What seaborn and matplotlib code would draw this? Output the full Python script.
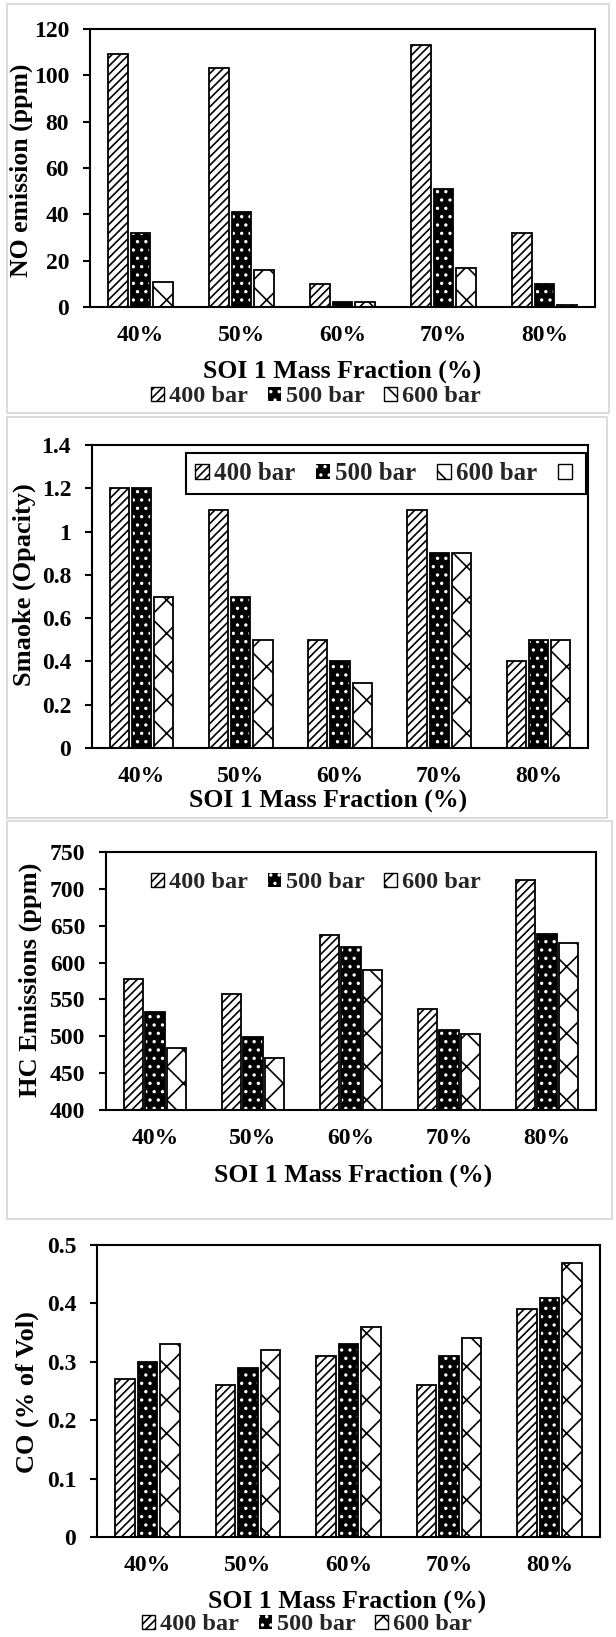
import numpy as np
import pandas as pd
import matplotlib
matplotlib.use("Agg")
import matplotlib.pyplot as plt
import seaborn as sns
from matplotlib.patches import Rectangle, Patch

# ---------------- data ----------------
categories = ["40%", "50%", "60%", "70%", "80%"]
pressures = ["400 bar", "500 bar", "600 bar"]

no_400 = [109, 103, 10, 113, 32]
no_500 = [32, 41, 2, 51, 10]
no_600 = [11, 16, 2, 17, 1]

smoke_400 = [1.2, 1.1, 0.5, 1.1, 0.4]
smoke_500 = [1.2, 0.7, 0.4, 0.9, 0.5]
smoke_600 = [0.7, 0.5, 0.3, 0.9, 0.5]

hc_400 = [578, 557, 638, 537, 712]
hc_500 = [533, 499, 621, 509, 639]
hc_600 = [484, 470, 590, 503, 627]

co_400 = [0.27, 0.26, 0.31, 0.26, 0.39]
co_500 = [0.30, 0.29, 0.33, 0.31, 0.41]
co_600 = [0.33, 0.32, 0.36, 0.34, 0.47]

no_ticks = [0, 20, 40, 60, 80, 100, 120]
no_ticklabels = ["0", "20", "40", "60", "80", "100", "120"]
smoke_ticks = [0, 0.2, 0.4, 0.6, 0.8, 1.0, 1.2, 1.4]
smoke_ticklabels = ["0", "0.2", "0.4", "0.6", "0.8", "1", "1.2", "1.4"]
hc_ticks = [400, 450, 500, 550, 600, 650, 700, 750]
hc_ticklabels = ["400", "450", "500", "550", "600", "650", "700", "750"]
co_ticks = [0, 0.1, 0.2, 0.3, 0.4, 0.5]
co_ticklabels = ["0", "0.1", "0.2", "0.3", "0.4", "0.5"]

xlabel_text = "SOI 1 Mass Fraction (%)"

# ---------------- style ----------------
sns.set_theme(style="white")
plt.rcParams["font.family"] = ["Liberation Serif", "DejaVu Serif"]
plt.rcParams["font.weight"] = "bold"
plt.rcParams["axes.labelweight"] = "bold"
plt.rcParams["hatch.linewidth"] = 1.2

W, H = 616, 1637
fig = plt.figure(figsize=(W / 100, H / 100), dpi=100)
fig.patch.set_facecolor("white")

HATCHES = ["////", "..", "x"]
HATCH_COLORS = ["black", "white", "black"]
FILLS = ["white", "black", "white"]


def fx(x):
    return x / W


def fy(y):
    return 1 - y / H


def add_axes_px(l, t, r, b):
    return fig.add_axes([l / W, 1 - b / H, (r - l) / W, (b - t) / H])


def legend_handles():
    hs = []
    for f, h in zip(FILLS, HATCHES):
        if f == "black":
            hs.append(Patch(facecolor="black", edgecolor="white", hatch=h, linewidth=0))
        else:
            hs.append(Patch(facecolor="white", edgecolor="black", hatch=h, linewidth=1.0))
    return hs


def draw_panel(ax, v400, v500, v600, ylim, ticks, ticklabels, ylabel,
               box_px, ylabel_px, xlabel_px, ylabel_size=19):
    df = pd.DataFrame({
        "frac": categories * 3,
        "pressure": [p for p in pressures for _ in categories],
        "value": list(v400) + list(v500) + list(v600),
    })
    sns.barplot(data=df, x="frac", y="value", hue="pressure",
                order=categories, hue_order=pressures,
                palette=FILLS, saturation=1, width=0.67, gap=0.13,
                errorbar=None, legend=False, ax=ax, linewidth=0)
    for cont, hatch, hc in zip(ax.containers, HATCHES, HATCH_COLORS):
        for p in cont:
            p.set_hatch(hatch)
            p.set_edgecolor(hc)
            p.set_linewidth(0)
    sns.barplot(data=df, x="frac", y="value", hue="pressure",
                order=categories, hue_order=pressures,
                palette=["black"] * 3, saturation=1, width=0.67, gap=0.13,
                errorbar=None, legend=False, ax=ax, fill=False, linewidth=1.3)

    ax.set_xlim(-0.5, 4.5)
    ax.set_ylim(*ylim)
    ax.set_yticks(ticks)
    ax.set_yticklabels(ticklabels)
    for s in ax.spines.values():
        s.set_visible(True)
        s.set_color("black")
        s.set_linewidth(1.5)
    ax.tick_params(axis="y", which="major", direction="out", length=5,
                   width=1.5, color="black", pad=10, labelsize=17, left=True)
    ax.tick_params(axis="x", length=0, pad=13, labelsize=17)
    for lab in ax.get_xticklabels() + ax.get_yticklabels():
        lab.set_fontweight("bold")
        lab.set_color("black")

    l, t, r, b = box_px
    ax.set_xlabel(xlabel_text, fontsize=18.5, fontweight="bold", color="black")
    ax.xaxis.label.set_va("center")
    ax.xaxis.set_label_coords((xlabel_px[0] - l) / (r - l), (b - xlabel_px[1]) / (b - t))
    ax.set_ylabel(ylabel, fontsize=ylabel_size, fontweight="bold", color="black")
    ax.yaxis.label.set_va("center")
    ax.yaxis.set_label_coords((ylabel_px[0] - l) / (r - l), (b - ylabel_px[1]) / (b - t))


def bottom_legend(xc, yc):
    return fig.legend(legend_handles(), pressures, loc="center",
                      bbox_to_anchor=(fx(xc), fy(yc)), bbox_transform=fig.transFigure,
                      ncol=3, frameon=False, handlelength=0.55, handleheight=0.55,
                      handletextpad=0.2, columnspacing=0.8, borderpad=0.0,
                      prop={"weight": "bold", "size": 17.5})


# ---------------- panel frames (light grey boxes) ----------------
for (x0, y0, x1, y1) in [(7, 4, 609, 413), (7, 417, 607, 818), (7, 821, 612, 1219)]:
    fig.add_artist(Rectangle((fx(x0), fy(y1)), (x1 - x0) / W, (y1 - y0) / H,
                             transform=fig.transFigure, fill=False,
                             edgecolor="#d9d9d9", linewidth=1.3))

# ---------------- panel 1: NO ----------------
b1 = (90, 29, 595, 307)
ax1 = add_axes_px(*b1)
draw_panel(ax1, no_400, no_500, no_600, (0, 120), no_ticks, no_ticklabels,
           "NO emission (ppm)", b1, (21, 170), (342, 371), ylabel_size=18.5)
bottom_legend(316, 397)

# ---------------- panel 2: Smoke ----------------
b2 = (92, 445, 588, 748)
ax2 = add_axes_px(*b2)
draw_panel(ax2, smoke_400, smoke_500, smoke_600, (0, 1.4), smoke_ticks,
           smoke_ticklabels, "Smaoke (Opacity)", b2, (24, 585), (328, 800))
h2 = legend_handles() + [Patch(facecolor="white", edgecolor="black", linewidth=1.0)]
leg2 = fig.legend(h2, pressures + [""], loc="center",
                  bbox_to_anchor=(fx(386), fy(473.5)), bbox_transform=fig.transFigure,
                  ncol=4, frameon=True, fancybox=False, edgecolor="black",
                  handlelength=0.55, handleheight=0.55, handletextpad=0.2,
                  columnspacing=0.85, borderpad=0.35, prop={"weight": "bold", "size": 18})
leg2.get_frame().set_linewidth(1.5)
leg2.get_frame().set_alpha(1)

# ---------------- panel 3: HC ----------------
b3 = (106, 852, 596, 1110)
ax3 = add_axes_px(*b3)
draw_panel(ax3, hc_400, hc_500, hc_600, (400, 750), hc_ticks, hc_ticklabels,
           "HC Emissions (ppm)", b3, (30, 980), (353, 1175))
bottom_legend(316, 883)

# ---------------- panel 4: CO ----------------
b4 = (97, 1245, 600, 1537)
ax4 = add_axes_px(*b4)
draw_panel(ax4, co_400, co_500, co_600, (0, 0.5), co_ticks, co_ticklabels,
           "CO (% of Vol)", b4, (27.5, 1392), (347, 1601))
bottom_legend(307, 1625)

fig.savefig("out.png", dpi=100, facecolor="white")
